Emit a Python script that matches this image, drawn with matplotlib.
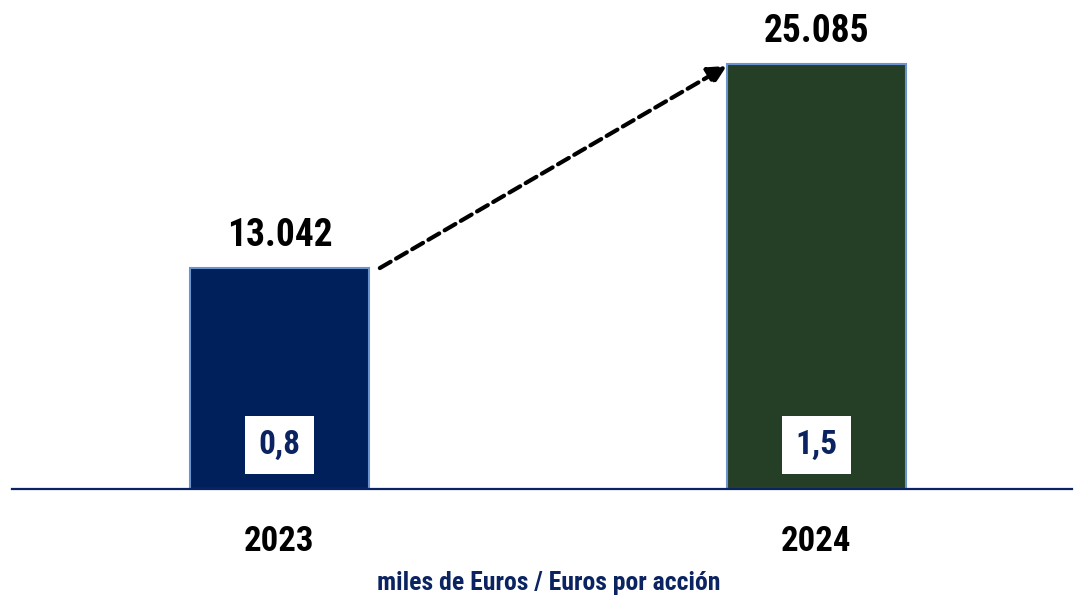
import matplotlib
matplotlib.use("Agg")
import matplotlib.pyplot as plt

years = ["2023", "2024"]
valores = [13042, 25085]          # miles de Euros
valores_txt = ["13.042", "25.085"]
por_accion = ["0,8", "1,5"]       # Euros por accion
colores = ["#00205B", "#243F26"]

plt.rcParams["font.family"] = ["Roboto Condensed", "DejaVu Sans"]

fig = plt.figure(figsize=(10.74, 5.96), dpi=100)
ax = fig.add_axes([12 / 1074, 107 / 596, 1060 / 1074, 489 / 596])

x = [0, 1]
ax.bar(x, valores, width=0.333, color=colores, edgecolor="#6A93CF", linewidth=1.5, zorder=2)

for xi, v, t in zip(x, valores, valores_txt):
    ax.text(xi, v + 850, t, ha="center", va="bottom", fontsize=27, fontweight="bold", color="black")

for xi, t in zip(x, por_accion):
    ax.text(xi, 2600, t, ha="center", va="center", fontsize=24, fontweight="bold", color="#0B2461",
            bbox=dict(boxstyle="square,pad=0.4", facecolor="white", edgecolor="none"), zorder=3)

# flecha de crecimiento
ax.annotate("", xy=(0.833, 24970), xytext=(0.187, 13040),
            arrowprops=dict(arrowstyle="-|>,head_length=0.5,head_width=0.25", linestyle=(0, (3, 1.5)),
                            lw=3, color="black", mutation_scale=22, shrinkA=0, shrinkB=0))

ax.set_xlim(-0.498, 1.476)
ax.set_ylim(0, 28862)
ax.axhline(0, color="#0B2461", lw=1.6, zorder=4, clip_on=False)
for s in ax.spines.values():
    s.set_visible(False)
ax.set_xticks([])
ax.set_yticks([])

for xi, yr in zip(x, years):
    ax.text(xi, -3100, yr, ha="center", va="center", fontsize=25, fontweight="bold", color="black")

fig.text(549 / 1074, 1 - 583 / 596, "miles de Euros / Euros por acción", ha="center", va="center",
         fontsize=18.5, fontweight="bold", color="#0B2461")

fig.savefig("out.png", dpi=100)
